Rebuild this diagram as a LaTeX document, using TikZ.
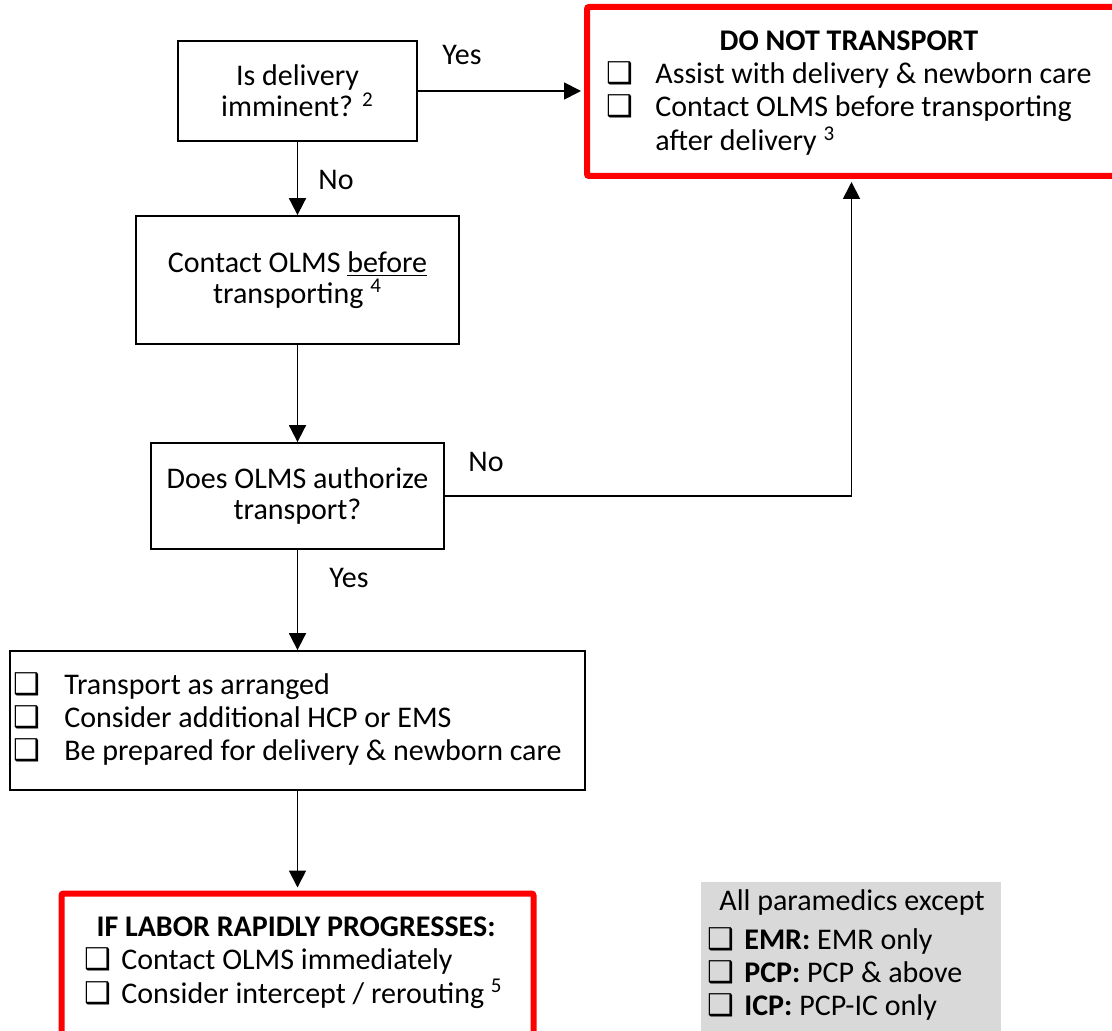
\documentclass[tikz,border=0pt]{standalone}
\usepackage{fontspec}
\setmainfont{Carlito}
\newfontfamily\symfont{DejaVu Sans}
\usetikzlibrary{arrows.meta}
\newcommand\cbx{{\symfont\char"2751}}
\definecolor{boxred}{HTML}{FF0000}
\definecolor{boxgrey}{HTML}{D9D9D9}
\begin{document}
\begin{tikzpicture}[x=0.5pt,y=-0.5pt,
  font=\fontsize{15}{15.5}\selectfont,
  box/.style={draw,line width=0.9pt,inner sep=0pt,align=center},
  redbox/.style={draw=boxred,line width=3pt,rounded corners=1pt,inner sep=0pt},
  arr/.style={line width=0.9pt,-{Triangle[length=8.5pt,width=8.5pt]}},
  lbl/.style={inner sep=0pt},
  txt/.style={inner sep=0pt,font=\fontsize{15}{16.5}\selectfont}]
\useasboundingbox (0,0) rectangle (1112,1031);
\clip (0,0) rectangle (1112,1031);

% boxes
\node[box, minimum width=119.5pt, minimum height=50pt] (q1) at (297.5,91)
  {Is delivery\\imminent? \textsuperscript{2}};
\node[redbox, minimum width=264.5pt, minimum height=84.5pt] (dnt) at (851.5,91.5) {};
\node[txt] (dnttext) at (849,94) {\begin{tabular}{@{}l@{\hspace{11pt}}l@{}}
  \multicolumn{2}{c}{\textbf{DO NOT TRANSPORT}}\\
  \cbx & Assist with delivery \& newborn care\\
  \cbx & Contact OLMS before transporting\\
       & after delivery \textsuperscript{3}\end{tabular}};
\node[box, minimum width=161.5pt, minimum height=64pt] (c1) at (297.5,280)
  {Contact OLMS \underline{before}\\transporting \textsuperscript{4}};
\node[box, minimum width=146.5pt, minimum height=53pt] (q2) at (297.5,496)
  {Does OLMS authorize\\transport?};
\node[box, minimum width=287.5pt, minimum height=69.5pt] (act) at (297.5,720.5) {};
\node[txt, anchor=west] (acttext) at (13,721) {\begin{tabular}{@{}l@{\hspace{12pt}}l@{}}
  \cbx & Transport as arranged\\
  \cbx & Consider additional HCP or EMS\\
  \cbx & Be prepared for delivery \& newborn care\end{tabular}};
\node[redbox, minimum width=236pt, minimum height=73.25pt] (rapid) at (297.5,966.75) {};
\node[txt] (rapidtext) at (296,963) {\begin{tabular}{@{}l@{\hspace{5pt}}l@{}}
  \multicolumn{2}{c}{\textbf{IF LABOR RAPIDLY PROGRESSES:}}\\
  \cbx & Contact OLMS immediately\\
  \cbx & Consider intercept / rerouting \textsuperscript{5}\end{tabular}};
\node[fill=boxgrey, inner sep=0pt, minimum width=150pt, minimum height=76.5pt] (legend) at (851,958.5) {};
\node[txt] (legendtext) at (852,956) {\begin{tabular}{@{}l@{\hspace{5pt}}l@{}}
  \multicolumn{2}{c}{All paramedics except}\\[3pt]
  \cbx & \textbf{EMR:} EMR only\\
  \cbx & \textbf{PCP:} PCP \& above\\
  \cbx & \textbf{ICP:} PCP-IC only\end{tabular}};

% labels
\node[lbl] (yes1) at (462,55) {Yes};
\node[lbl] (no1) at (336,180) {No};
\node[lbl] (no2) at (486,462) {No};
\node[lbl] (yes2) at (349,578) {Yes};

% connectors
\draw[arr, shorten >=1.5pt] (q1.east) -- (q1.east -| dnt.west);
\draw[arr] (q1.south) -- (c1.north);
\draw[arr] (c1.south) -- (q2.north);
\draw[arr, shorten >=1.5pt] (q2.east) -| (dnt.south);
\draw[arr] (q2.south) -- (act.north);
\draw[arr, shorten >=1.5pt] (act.south) -- (rapid.north);
\end{tikzpicture}
\end{document}
